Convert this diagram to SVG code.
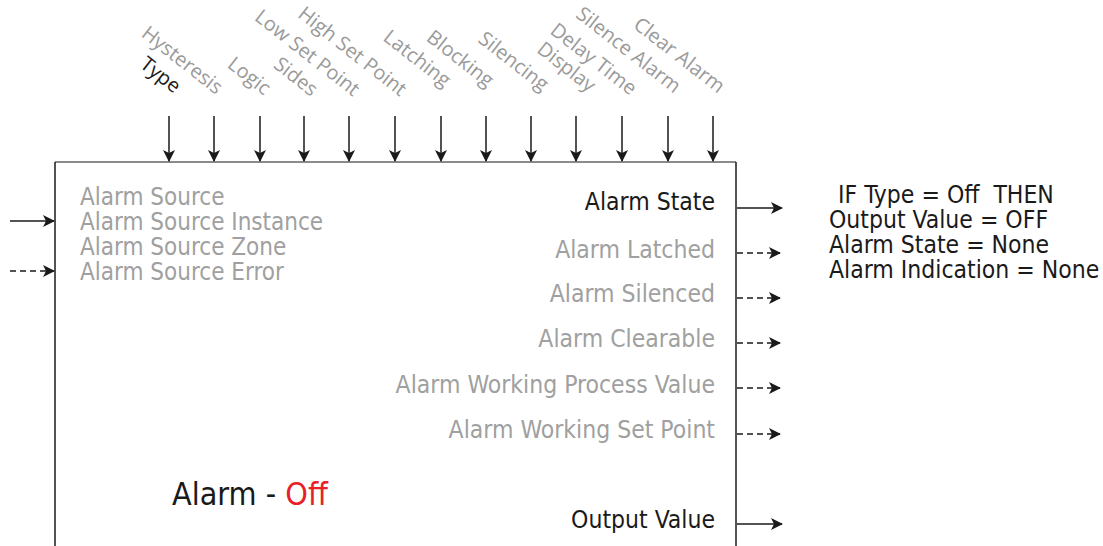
<svg xmlns="http://www.w3.org/2000/svg" width="1103" height="546" viewBox="0 0 1103 546">
<defs>
<marker id="ah" viewBox="0 0 12 12" refX="11" refY="6" markerWidth="12" markerHeight="12" markerUnits="userSpaceOnUse" orient="auto">
<path d="M0,0 L12,6 L0,12 L3,6 Z" fill="#1a1a1a"/>
</marker>
</defs>
<style>
.lbl{font-family:"Open Sans","Noto Sans",sans-serif;font-size:20px;fill:#9a9a9a;text-anchor:end}
.in{font-family:"DejaVu Sans Condensed","DejaVu Sans",sans-serif;font-size:24px;fill:#a0a0a0}
.out{font-family:"DejaVu Sans Condensed","DejaVu Sans",sans-serif;font-size:24.5px;fill:#a0a0a0;text-anchor:end}
.cond{font-family:"DejaVu Sans Condensed","DejaVu Sans",sans-serif;font-size:24.5px;fill:#1a1a1a}
.title{font-family:"DejaVu Sans Condensed","DejaVu Sans",sans-serif;font-size:32px;fill:#1a1a1a}
.ln{stroke:#1a1a1a;stroke-width:1.5;fill:none}
.ar{stroke:#1a1a1a;stroke-width:1.5;fill:none;marker-end:url(#ah)}
.da{stroke:#1a1a1a;stroke-width:1.5;fill:none;stroke-dasharray:6,4;marker-end:url(#ah)}
</style>
<g id="block">
<line x1="55" y1="162" x2="736" y2="162" stroke="#8a8a8a" stroke-width="2"/>
<line class="ln" x1="55" y1="162" x2="55" y2="546"/>
<line class="ln" x1="736" y1="162" x2="736" y2="546"/>
<text class="title" x="172" y="505">Alarm - <tspan fill="#e8202a">Off</tspan></text>
</g>
<g id="param-labels">
<text class="lbl" style="fill:#1a1a1a" transform="translate(174,94) rotate(38)">Type</text>
<text class="lbl" transform="translate(216,95) rotate(38)">Hysteresis</text>
<text class="lbl" transform="translate(264,96) rotate(38)">Logic</text>
<text class="lbl" transform="translate(311,97) rotate(38)">Sides</text>
<text class="lbl" transform="translate(353,97) rotate(38)">Low Set Point</text>
<text class="lbl" transform="translate(400,97) rotate(38)">High Set Point</text>
<text class="lbl" transform="translate(444,88) rotate(38)">Latching</text>
<text class="lbl" transform="translate(487,88) rotate(38)">Blocking</text>
<text class="lbl" transform="translate(542,92) rotate(38)">Silencing</text>
<text class="lbl" transform="translate(589,93) rotate(38)">Display</text>
<text class="lbl" transform="translate(630,96) rotate(38)">Delay Time</text>
<text class="lbl" transform="translate(674,94) rotate(38)">Silence Alarm</text>
<text class="lbl" transform="translate(718,94) rotate(38)">Clear Alarm</text>
</g>
<g id="inputs">
<text class="in" x="80" y="205">Alarm Source</text>
<text class="in" x="80" y="230">Alarm Source Instance</text>
<text class="in" x="80" y="255">Alarm Source Zone</text>
<text class="in" x="80" y="280">Alarm Source Error</text>
</g>
<g id="outputs">
<text class="out" x="715" y="210" style="fill:#1a1a1a">Alarm State</text>
<text class="out" x="715" y="258">Alarm Latched</text>
<text class="out" x="715" y="302">Alarm Silenced</text>
<text class="out" x="715" y="347">Alarm Clearable</text>
<text class="out" x="715" y="393">Alarm Working Process Value</text>
<text class="out" x="715" y="438">Alarm Working Set Point</text>
<text class="out" x="715" y="528" style="fill:#1a1a1a">Output Value</text>
</g>
<g id="note">
<text class="cond" x="838" y="203" xml:space="preserve">IF Type = Off  THEN</text>
<text class="cond" x="829" y="228">Output Value = OFF</text>
<text class="cond" x="829" y="253">Alarm State = None</text>
<text class="cond" x="829" y="278">Alarm Indication = None</text>
</g>
<g id="connectors">
<line class="ar" x1="169" y1="116" x2="169" y2="161"/>
<line class="ar" x1="214" y1="116" x2="214" y2="161"/>
<line class="ar" x1="260" y1="116" x2="260" y2="161"/>
<line class="ar" x1="304" y1="116" x2="304" y2="161"/>
<line class="ar" x1="349" y1="116" x2="349" y2="161"/>
<line class="ar" x1="395" y1="116" x2="395" y2="161"/>
<line class="ar" x1="441" y1="116" x2="441" y2="161"/>
<line class="ar" x1="486" y1="116" x2="486" y2="161"/>
<line class="ar" x1="531" y1="116" x2="531" y2="161"/>
<line class="ar" x1="576" y1="116" x2="576" y2="161"/>
<line class="ar" x1="622" y1="116" x2="622" y2="161"/>
<line class="ar" x1="668" y1="116" x2="668" y2="161"/>
<line class="ar" x1="713" y1="116" x2="713" y2="161"/>
<line class="ar" x1="10" y1="221" x2="54" y2="221"/>
<line class="da" x1="10" y1="271" x2="54" y2="271"/>
<line class="ar" x1="737" y1="208" x2="782" y2="208"/>
<line class="da" x1="737" y1="253" x2="780" y2="253"/>
<line class="da" x1="737" y1="298" x2="780" y2="298"/>
<line class="da" x1="737" y1="343" x2="780" y2="343"/>
<line class="da" x1="737" y1="388" x2="780" y2="388"/>
<line class="da" x1="737" y1="434" x2="780" y2="434"/>
<line class="ar" x1="737" y1="524" x2="782" y2="524"/>
</g>
</svg>
